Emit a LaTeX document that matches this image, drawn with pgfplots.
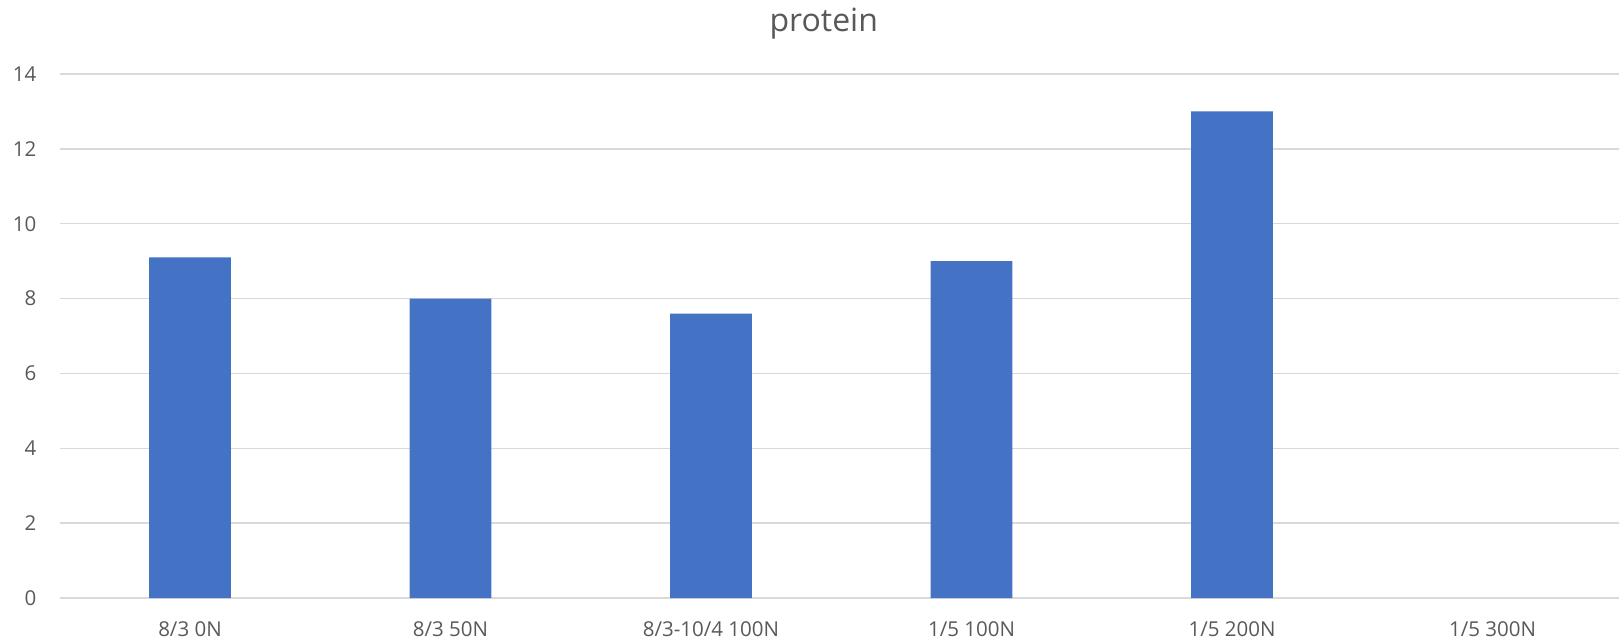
\documentclass[border=0pt]{standalone}
\usepackage{pgfplots}
\pgfplotsset{compat=1.18}
\usepackage{fontspec}
\setmainfont{Open Sans}
\definecolor{barblue}{HTML}{4472C4}
\definecolor{gridgray}{HTML}{D9D9D9}
\definecolor{txtgray}{HTML}{595959}
\begin{document}
\begin{tikzpicture}
\begin{axis}[
  scale only axis,
  width=779.625pt, height=262pt,
  xmin=-0.5, xmax=5.4856,
  ymin=0, ymax=14,
  ytick={0,2,...,14},
  xtick={0,1,2,3,4,5},
  xticklabels={8/3 0N, 8/3 50N, 8/3-10/4 100N, 1/5 100N, 1/5 200N, 1/5 300N},
  axis line style={draw=none},
  tick style={draw=none},
  ymajorgrids,
  grid style={gridgray, line width=0.75pt},
  /pgf/number format/assume math mode=true,
  ticklabel style={font=\fontsize{10.25}{12}\selectfont, text=txtgray, inner sep=0pt},
  yticklabel style={anchor=east, xshift=-11.5pt},
  xticklabel style={anchor=base, yshift=-19.35pt},
  title={protein},
  title style={at={(axis description cs:0.490,1.0802)}, anchor=base, yshift=-6pt, font=\fontsize{16}{19}\selectfont, text=txtgray, inner sep=0pt},
]
\addplot[ybar, bar width=40.85pt, fill=barblue, draw=none] coordinates {
  (0,9.1) (1,8.0) (2,7.6) (3,9.0) (4,13.0)
};
\end{axis}
\pgfresetboundingbox
\path (-29.875pt,-22.5pt) rectangle (779.625pt,299pt);
\end{tikzpicture}
\end{document}
